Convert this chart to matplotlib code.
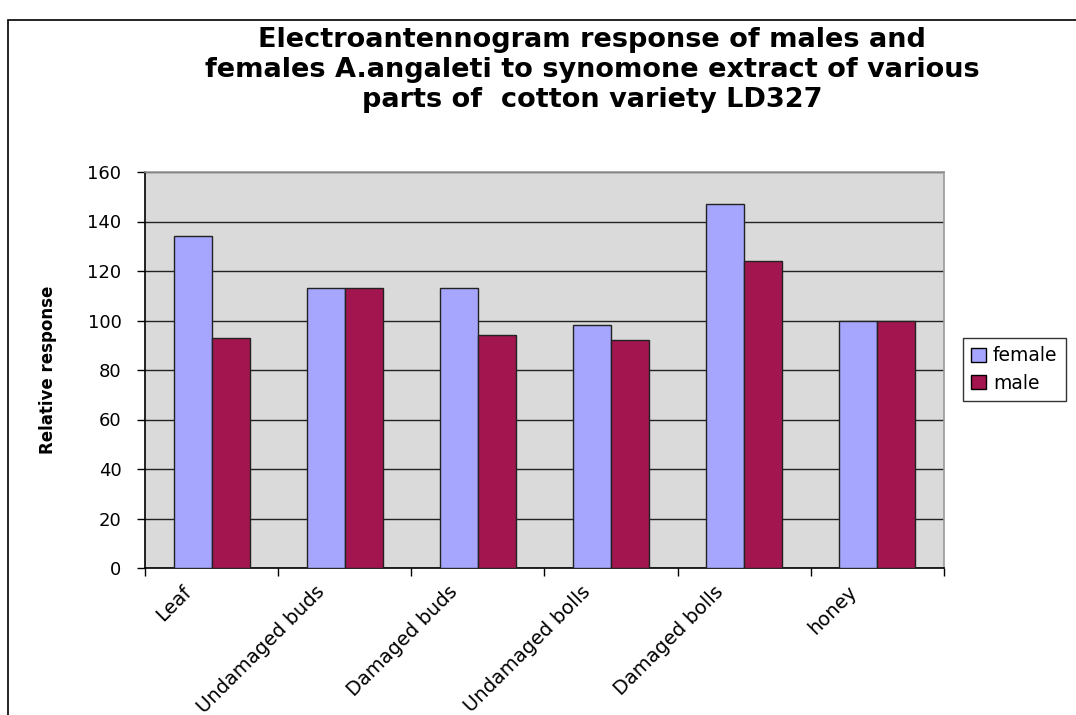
import matplotlib
matplotlib.use("Agg")
import matplotlib.pyplot as plt
import matplotlib.transforms as mtransforms
import numpy as np
from matplotlib.patches import Rectangle

categories = ["Leaf", "Undamaged buds", "Damaged buds", "Undamaged bolls", "Damaged bolls", "honey"]
female = [134.3, 113, 113, 98, 147, 100]
male = [93, 113, 94, 92, 124.2, 100]
series_names = ["female", "male"]
yticks = [0, 20, 40, 60, 80, 100, 120, 140, 160]

plt.rcParams['font.family'] = ['DejaVu Sans']

W, H = 1076, 715
fig = plt.figure(figsize=(W/100, H/100), dpi=100)
fig.patch.set_facecolor('white')

# outer chart border
fig.add_artist(Rectangle((8/W, -0.01), 1.1, 1 - 20/H + 0.01, transform=fig.transFigure,
                         fill=False, edgecolor='black', linewidth=1.2))

ax = fig.add_axes([145/W, 1 - 568/H, (944-145)/W, (568-172)/H])
ax.set_facecolor('#DADADA')

x = np.arange(len(categories))
bw = 1/3.5
fc = '#A6A6FF'
mc = '#A3154F'
ax.bar(x - bw/2, female, bw, color=fc, edgecolor='#222222', linewidth=1.0, label=series_names[0], zorder=3)
ax.bar(x + bw/2, male, bw, color=mc, edgecolor='#222222', linewidth=1.0, label=series_names[1], zorder=3)

ax.set_xlim(-0.5, len(categories) - 0.5)
ax.set_ylim(0, 160)
ax.set_yticks(yticks)
ax.set_yticklabels([str(v) for v in yticks], fontsize=13)
ax.yaxis.grid(True, color='#222222', linewidth=1.0, zorder=1)
ax.set_axisbelow(True)

ax.set_xticks(x)
ax.set_xticklabels(categories, rotation=45, ha='right', rotation_mode='anchor', fontsize=14)
ax.tick_params(axis='x', length=0, pad=10)
offset = mtransforms.ScaledTranslation(-0.3, 0, fig.dpi_scale_trans)
for lab in ax.get_xticklabels():
    lab.set_transform(lab.get_transform() + offset)
ax.set_xticks(np.arange(-0.5, len(categories)), minor=True)
ax.tick_params(axis='x', which='minor', length=6, width=1, direction='out')
ax.tick_params(axis='y', length=6, width=1, direction='out', pad=11)

for s in ['top', 'right']:
    ax.spines[s].set_color('#999999')
    ax.spines[s].set_linewidth(1.2)
for s in ['left', 'bottom']:
    ax.spines[s].set_color('black')
    ax.spines[s].set_linewidth(1.2)

ax.set_ylabel("Relative response", fontsize=12, fontweight='bold', labelpad=22)

fig.text(592/W, 1 - 70/H,
         "Electroantennogram response of males and\nfemales A.angaleti to synomone extract of various\nparts of  cotton variety LD327",
         ha='center', va='center', fontsize=19.5, fontweight='bold', linespacing=1.18)

leg = fig.legend(loc='upper left', bbox_to_anchor=(963/W, 1 - 338/H), frameon=True, fancybox=False,
                 edgecolor='black', fontsize=13.5, handlelength=0.75, handleheight=0.75,
                 handletextpad=0.4, borderpad=0.45, labelspacing=0.45, borderaxespad=0)
leg.get_frame().set_linewidth(1.0)
for h in leg.legend_handles:
    h.set_edgecolor('black')

fig.savefig("out.png", dpi=100)
